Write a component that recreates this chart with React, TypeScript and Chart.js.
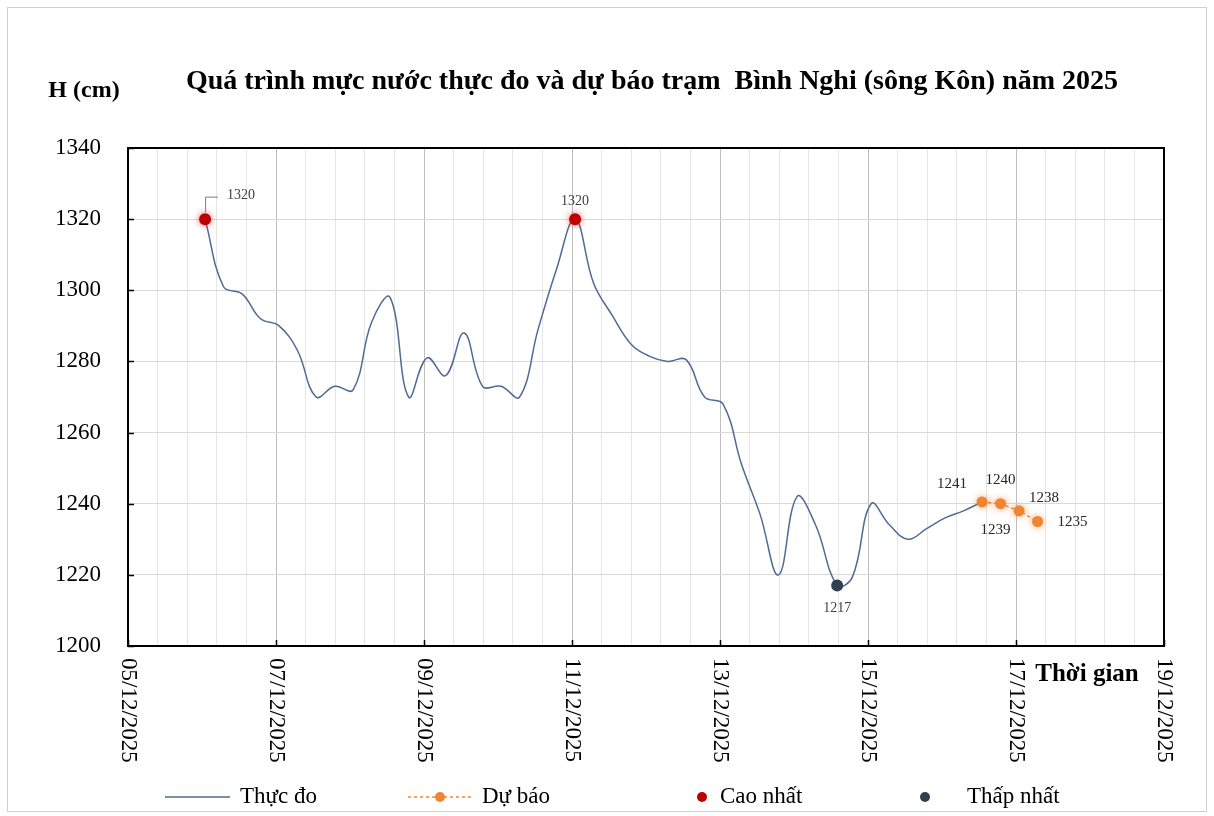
import React, { useEffect, useRef } from 'react';
import { Chart, registerables } from 'chart.js';

Chart.register(...registerables);

// ---------------- DATA ----------------
const obsTimes = [
  '06/12 01:00', '06/12 07:00', '06/12 13:00', '06/12 19:00',
  '07/12 01:00', '07/12 07:00', '07/12 13:00', '07/12 19:00',
  '08/12 01:00', '08/12 07:00', '08/12 13:00', '08/12 19:00',
  '09/12 01:00', '09/12 07:00', '09/12 13:00', '09/12 19:00',
  '10/12 01:00', '10/12 07:00', '10/12 13:00', '10/12 19:00',
  '11/12 01:00', '11/12 07:00', '11/12 13:00', '11/12 19:00',
  '12/12 01:00', '12/12 07:00', '12/12 13:00', '12/12 19:00',
  '13/12 01:00', '13/12 07:00', '13/12 13:00', '13/12 19:00',
  '14/12 01:00', '14/12 07:00', '14/12 14:00', '14/12 19:00',
  '15/12 01:00', '15/12 07:00', '15/12 13:00', '15/12 19:00',
  '16/12 01:00', '16/12 07:00', '16/12 13:00',
];
const obsValues = [
  1320, 1301, 1299, 1292,
  1290, 1283, 1270, 1273,
  1272, 1291, 1298, 1270,
  1281, 1276, 1288, 1273,
  1273, 1270, 1289, 1306,
  1320, 1302, 1293, 1285,
  1281.5, 1280, 1280.5, 1270,
  1268, 1251, 1237, 1220,
  1242, 1234, 1217, 1219.5,
  1240, 1234, 1230, 1233,
  1236, 1238, 1240.5,
];

const forecastTimes = ['16/12 13:00', '16/12 19:00', '17/12 01:00', '17/12 07:00'];
const forecastValues = [1240.5, 1240, 1238, 1235];
const forecastLabels = ['1241', '1240', '1238', '1235'];
const forecastExtraLabels = ['', '1239', '', ''];

const highTimes = ['06/12 01:00', '11/12 01:00'];
const highValues = [1320, 1320];
const lowTimes = ['14/12 14:00'];
const lowValues = [1217];

const xTickLabels = [
  '05/12/2025', '07/12/2025', '09/12/2025', '11/12/2025',
  '13/12/2025', '15/12/2025', '17/12/2025', '19/12/2025',
];
const yMin = 1200;
const yMax = 1340;
const yStep = 20;

const legendNames = ['Thực đo', 'Dự báo', 'Cao nhất', 'Thấp nhất'];
const titleText = 'Quá trình mực nước thực đo và dự báo trạm  Bình Nghi (sông Kôn) năm 2025';
const yTitle = 'H (cm)';
const xTitle = 'Thời gian';

// ---------------- HELPERS ----------------
const toDay = (s: string) => {
  const [d, t] = s.split(' ');
  const day = Number(d.split('/')[0]);
  const [h, m] = (t || '00:00').split(':').map(Number);
  return day + h / 24 + m / 1440;
};
const pts = (times: string[], vals: number[]) => times.map((t, i) => ({ x: toDay(t), y: vals[i] }));

const C_LINE = '#4F6B95';
const C_ORANGE = '#EE8535';
const C_RED = '#C00000';
const C_DARK = '#323F4F';
const SERIF = '"Liberation Serif", "Times New Roman", serif';

const xMin = toDay(xTickLabels[0]);
const xMax = toDay(xTickLabels[xTickLabels.length - 1]);

export default function App() {
  const ref = useRef<HTMLCanvasElement | null>(null);

  useEffect(() => {
    if (!ref.current) return;

    const decor = {
      id: 'decor',
      beforeDraw(chart: any) {
        const { ctx, width, height } = chart;
        ctx.save();
        ctx.fillStyle = '#fff';
        ctx.fillRect(0, 0, width, height);
        ctx.strokeStyle = '#D0D0D0';
        ctx.lineWidth = 1;
        ctx.strokeRect(7.5, 7.5, width - 15, height - 12);
        ctx.restore();
      },
      beforeDatasetDraw(chart: any, args: any) {
        const ds = chart.data.datasets[args.index];
        if (ds.glow) {
          chart.ctx.save();
          chart.ctx.shadowColor = ds.glow;
          chart.ctx.shadowBlur = 7;
        }
      },
      afterDatasetDraw(chart: any, args: any) {
        const ds = chart.data.datasets[args.index];
        if (ds.glow) chart.ctx.restore();
      },
      afterDraw(chart: any) {
        const { ctx, chartArea: a, scales } = chart;
        const xs = scales.x;
        const ys = scales.y;
        ctx.save();

        // plot border
        ctx.strokeStyle = '#000';
        ctx.lineWidth = 2;
        ctx.strokeRect(a.left, a.top, a.right - a.left, a.bottom - a.top);

        // inner tick marks
        ctx.lineWidth = 1.5;
        for (let v = yMin; v <= yMax; v += yStep) {
          const y = Math.round(ys.getPixelForValue(v)) + 0.5;
          ctx.beginPath();
          ctx.moveTo(a.left, y);
          ctx.lineTo(a.left + 6, y);
          ctx.stroke();
        }
        xTickLabels.forEach((lab) => {
          const x = Math.round(xs.getPixelForValue(toDay(lab))) + 0.5;
          ctx.beginPath();
          ctx.moveTo(x, a.bottom);
          ctx.lineTo(x, a.bottom - 6);
          ctx.stroke();
        });

        // x tick labels rotated clockwise
        ctx.fillStyle = '#000';
        ctx.font = `23px ${SERIF}`;
        ctx.textAlign = 'left';
        ctx.textBaseline = 'middle';
        xTickLabels.forEach((lab) => {
          const x = xs.getPixelForValue(toDay(lab));
          ctx.save();
          ctx.translate(x, a.bottom + 12);
          ctx.rotate(Math.PI / 2);
          ctx.fillText(lab, 0, 0);
          ctx.restore();
        });

        // titles
        ctx.textAlign = 'center';
        ctx.textBaseline = 'middle';
        ctx.font = `bold 28px ${SERIF}`;
        ctx.fillText(titleText, 652, 82);
        ctx.font = `bold 24px ${SERIF}`;
        ctx.fillText(yTitle, 84, 91);
        ctx.font = `bold 25px ${SERIF}`;
        ctx.fillText(xTitle, 1087, 675);

        // high / low data labels
        const hMeta = chart.getDatasetMeta(2).data;
        const lMeta = chart.getDatasetMeta(3).data;
        ctx.font = `14px ${SERIF}`;
        ctx.fillStyle = '#404040';
        hMeta.forEach((p: any, i: number) => {
          const txt = String(highValues[i]);
          if (i === 0) {
            ctx.strokeStyle = '#7F7F7F';
            ctx.lineWidth = 1;
            ctx.beginPath();
            ctx.moveTo(p.x + 0.5, p.y - 7);
            ctx.lineTo(p.x + 0.5, p.y - 22);
            ctx.lineTo(p.x + 13, p.y - 22);
            ctx.stroke();
            ctx.fillText(txt, p.x + 36, p.y - 24);
          } else {
            ctx.fillText(txt, p.x, p.y - 18);
          }
        });
        lMeta.forEach((p: any, i: number) => {
          ctx.fillText(String(lowValues[i]), p.x, p.y + 23);
        });

        // forecast labels
        const fMeta = chart.getDatasetMeta(1).data;
        ctx.font = `15px ${SERIF}`;
        ctx.fillStyle = '#262626';
        const offs = [[-30, -18], [0, -24], [25, -13], [35, 1]];
        fMeta.forEach((p: any, i: number) => {
          ctx.fillText(forecastLabels[i], p.x + offs[i][0], p.y + offs[i][1]);
          if (forecastExtraLabels[i]) ctx.fillText(forecastExtraLabels[i], p.x - 5, p.y + 26);
        });

        // legend
        const ly = 797;
        ctx.font = `23px ${SERIF}`;
        ctx.textAlign = 'left';
        ctx.fillStyle = '#000';
        // 1 observed
        ctx.strokeStyle = C_LINE;
        ctx.lineWidth = 1.5;
        ctx.setLineDash([]);
        ctx.beginPath(); ctx.moveTo(165, ly); ctx.lineTo(230, ly); ctx.stroke();
        ctx.fillText(legendNames[0], 240, ly);
        // 2 forecast
        ctx.strokeStyle = C_ORANGE;
        ctx.setLineDash([3, 3]);
        ctx.beginPath(); ctx.moveTo(408, ly); ctx.lineTo(472, ly); ctx.stroke();
        ctx.setLineDash([]);
        ctx.fillStyle = C_ORANGE;
        ctx.beginPath(); ctx.arc(440, ly, 5, 0, Math.PI * 2); ctx.fill();
        ctx.fillStyle = '#000';
        ctx.fillText(legendNames[1], 482, ly);
        // 3 high
        ctx.fillStyle = C_RED;
        ctx.beginPath(); ctx.arc(702, ly, 5, 0, Math.PI * 2); ctx.fill();
        ctx.fillStyle = '#000';
        ctx.fillText(legendNames[2], 720, ly);
        // 4 low
        ctx.fillStyle = C_DARK;
        ctx.beginPath(); ctx.arc(925, ly, 5, 0, Math.PI * 2); ctx.fill();
        ctx.fillStyle = '#000';
        ctx.fillText(legendNames[3], 967, ly);

        ctx.restore();
      },
    };

    const chart = new Chart(ref.current, {
      type: 'line',
      data: {
        datasets: [
          {
            label: legendNames[0],
            data: pts(obsTimes, obsValues),
            borderColor: C_LINE,
            borderWidth: 1.5,
            pointRadius: 0,
            tension: 0.4,
            fill: false,
            order: 4,
          },
          {
            label: legendNames[1],
            data: pts(forecastTimes, forecastValues),
            borderColor: C_ORANGE,
            borderWidth: 1.5,
            borderDash: [3, 3],
            pointRadius: 5.5,
            pointBackgroundColor: C_ORANGE,
            pointBorderColor: C_ORANGE,
            pointBorderWidth: 0,
            tension: 0,
            glow: 'rgba(238,133,53,0.7)',
            order: 3,
          } as any,
          {
            label: legendNames[2],
            data: pts(highTimes, highValues),
            showLine: false,
            pointRadius: 6,
            pointBackgroundColor: C_RED,
            pointBorderColor: C_RED,
            pointBorderWidth: 0,
            glow: 'rgba(192,0,0,0.6)',
            order: 2,
          } as any,
          {
            label: legendNames[3],
            data: pts(lowTimes, lowValues),
            showLine: false,
            pointRadius: 6,
            pointBackgroundColor: C_DARK,
            pointBorderColor: C_DARK,
            pointBorderWidth: 0,
            order: 1,
          },
        ],
      },
      options: {
        animation: false,
        responsive: false,
        maintainAspectRatio: false,
        layout: { padding: { left: 0, top: 148, right: 50, bottom: 0 } },
        plugins: {
          legend: { display: false },
          title: { display: false },
          tooltip: { enabled: false },
        },
        scales: {
          x: {
            type: 'linear',
            min: xMin,
            max: xMax,
            afterBuildTicks: (scale: any) => {
              const t: any[] = [];
              for (let k = 0; k <= 35; k++) t.push({ value: xMin + k * 0.4 });
              scale.ticks = t;
            },
            afterFit: (scale: any) => { scale.height = 170; },
            ticks: { display: false },
            grid: {
              drawTicks: false,
              color: (c: any) => {
                const v = c.tick ? c.tick.value - xMin : 0;
                const r = Math.abs(v / 2 - Math.round(v / 2));
                return r < 0.01 ? '#BFBFBF' : '#E6E6E6';
              },
              lineWidth: 1,
            },
            border: { display: false },
          },
          y: {
            min: yMin,
            max: yMax,
            afterFit: (scale: any) => { scale.width = 128; },
            ticks: {
              stepSize: yStep,
              padding: 27,
              color: '#000',
              font: { family: SERIF, size: 23 },
              callback: (v: any) => String(v),
            },
            grid: { drawTicks: false, color: '#D9D9D9', lineWidth: 1 },
            border: { display: false },
          },
        },
      } as any,
      plugins: [decor],
    });

    return () => chart.destroy();
  }, []);

  return (
    <div style={{ position: 'fixed', left: 0, top: 0, width: 1214, height: 816 }}>
      <canvas ref={ref} width={1214} height={816} style={{ width: 1214, height: 816, display: 'block' }} />
    </div>
  );
}
